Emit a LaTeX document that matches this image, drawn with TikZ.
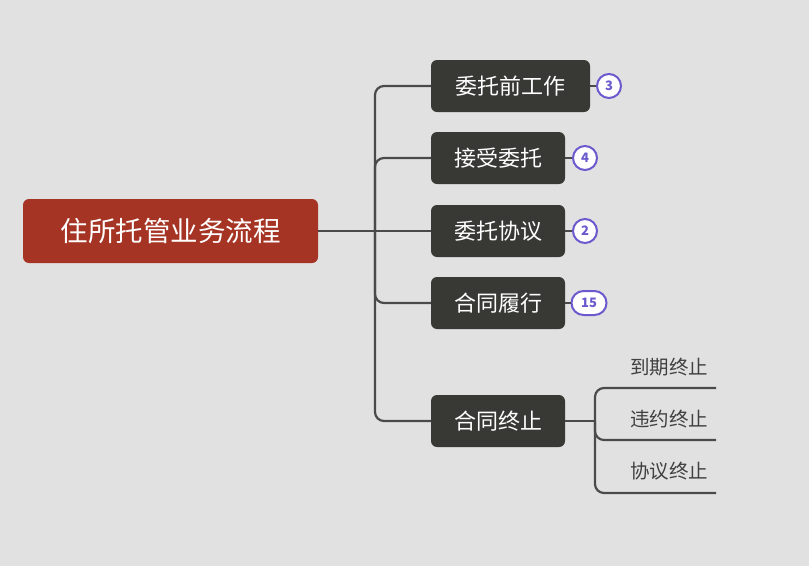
\documentclass[tikz,border=0pt]{standalone}
\usepackage{fontspec}
\setmainfont{Noto Sans CJK SC}
\usepackage{tikz}
\usetikzlibrary{calc,positioning}

\definecolor{bggray}{HTML}{E1E1E1}
\definecolor{rootred}{HTML}{A63424}
\definecolor{boxdark}{HTML}{383834}
\definecolor{linegray}{HTML}{4A4A4A}
\definecolor{badgeblue}{HTML}{6A5ACD}
\definecolor{leaftext}{HTML}{404040}

\begin{document}
\begin{tikzpicture}[
		x=1pt,y=-1pt,
		rootbox/.style={fill=rootred,rounded corners=6pt,text=white,minimum width=295pt,minimum height=64pt,inner sep=0pt,font=\fontsize{27.5}{30}\selectfont},
		topicbox/.style={fill=boxdark,rounded corners=6pt,text=white,minimum height=52pt,minimum width=134pt,inner sep=0pt,font=\fontsize{22}{24}\selectfont},
		badge/.style={draw=badgeblue,line width=2pt,fill=white,rounded corners=12pt,minimum width=24pt,minimum height=24pt,inner sep=0pt,text=badgeblue,font=\fontsize{13}{14}\selectfont\bfseries},
		leaf/.style={text=leaftext,font=\fontsize{19.5}{22}\selectfont,inner sep=0pt},
		branch/.style={draw=linegray,line width=2.2pt,rounded corners=9pt}
	]
	\fill[bggray] (0,0) rectangle (809,566);

	\node[rootbox] (root) at (170.5,231) {住所托管业务流程};

	\node[topicbox,minimum width=159pt] (pre) at (510.5,86) {委托前工作};
	\node[topicbox] (acc) at (498,158) {接受委托};
	\node[topicbox] (agr) at (498,231) {委托协议};
	\node[topicbox] (exe) at (498,303) {合同履行};
	\node[topicbox] (end) at (498,421) {合同终止};

	\node[badge] (n3) at (609,86) {3};
	\node[badge] (n4) at (585,158) {4};
	\node[badge] (n2) at (585,231) {2};
	\node[badge,minimum width=35pt] (n15) at (589,303) {15};

	\coordinate (trunk) at (375,231);
	\coordinate (fork) at (595,421);

	% main branches
	\draw[branch] (root.east) -- (agr.west);
	\draw[branch] (trunk) |- (pre.west);
	\draw[branch] (trunk) |- (acc.west);
	\draw[branch] (trunk) |- (exe.west);
	\draw[branch] (trunk) |- (end.west);

	% counts
	\draw[branch] (pre.east) -- (n3.west);
	\draw[branch] (acc.east) -- (n4.west);
	\draw[branch] (agr.east) -- (n2.west);
	\draw[branch] (exe.east) -- (n15.west);

	% ways to end the contract
	\coordinate (r1) at (716,388);
	\coordinate (r2) at (716,440);
	\coordinate (r3) at (716,493);
	\draw[branch] (end.east) -- (fork);
	\draw[branch] (fork) |- (r1);
	\draw[branch] (fork) |- (r2);
	\draw[branch] (fork) |- (r3);

	\node[leaf] (l1) at (669,367) {到期终止};
	\node[leaf] (l2) at (669,419) {违约终止};
	\node[leaf] (l3) at (669,471) {协议终止};
\end{tikzpicture}
\end{document}
